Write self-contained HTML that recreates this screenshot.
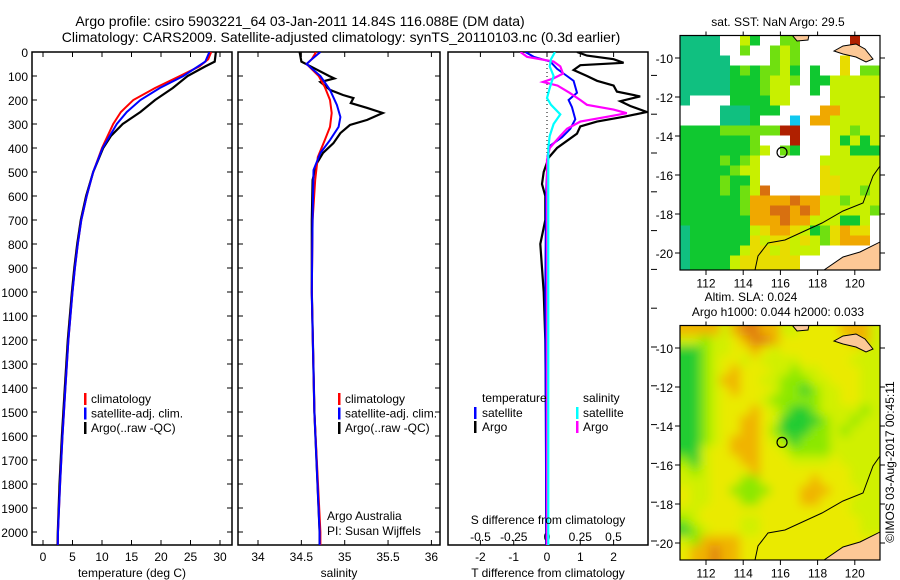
<!DOCTYPE html>
<html><head><meta charset="utf-8">
<style>
html,body{margin:0;padding:0;background:#fff;}
svg{display:block;font-family:"Liberation Sans",sans-serif;}
text{font-size:12px;fill:#000;}
</style></head>
<body>
<svg id="fig" width="900" height="580" viewBox="0 0 900 580" xmlns="http://www.w3.org/2000/svg">
<defs>
<clipPath id="c1"><rect x="32" y="52" width="200" height="493"/></clipPath>
<clipPath id="c2"><rect x="238" y="52" width="202" height="493"/></clipPath>
<clipPath id="c3"><rect x="448" y="52" width="200" height="493"/></clipPath>
<clipPath id="cm1"><rect x="680" y="35.5" width="200" height="234.5"/></clipPath>
<clipPath id="cm2"><rect x="680" y="325.5" width="200" height="234.5"/></clipPath>
<filter id="blur" x="-5%" y="-5%" width="110%" height="110%"><feGaussianBlur stdDeviation="5"/></filter>
</defs>
<text x="300" y="26" text-anchor="middle" style="font-size:14px">Argo profile: csiro 5903221_64 03-Jan-2011 14.84S 116.088E (DM data)</text>
<text x="341" y="42" text-anchor="middle" style="font-size:14px">Climatology: CARS2009. Satellite-adjusted climatology: synTS_20110103.nc (0.3d earlier)</text>
<g id="g1"></g>
<g id="g2"></g>
<g id="g3"></g>
<g id="m1"></g>
<g id="m2"></g>
<text x="0" y="0" transform="translate(894,462) rotate(-90)" text-anchor="middle">©IMOS 03-Aug-2017 00:45:11</text>
</svg>
<script>
// ---- data ----
const depthTicks=[0,100,200,300,400,500,600,700,800,900,1000,1100,1200,1300,1400,1500,1600,1700,1800,1900,2000];
const tempTicks=[0,5,10,15,20,25,30];
const salTicks=[34,34.5,35,35.5,36];
const tdTicks=[-2,-1,0,1,2];
const sdTicks=[-0.5,-0.25,0,0.25,0.5];
const sdTickLabels=["-0.5","-0.25","0","0.25","0.5"];
const climTempDepth=[0,30,60,100,150,200,250,300,400,500,600,700,800,900,1000,1200,1400,1600,1800,2000,2060];
const climTemp=[28.5,28,26.5,23.2,19,15.3,13.2,11.9,10,8.5,7.4,6.5,5.9,5.4,5,4.3,3.8,3.3,2.9,2.55,2.5];
const satTempDepth=[0,40,100,150,200,250,300,400,500,600,700,800,900,1000,1200,1400,1600,1800,2000,2060];
const satTemp=[28.2,27.5,23.8,19.8,16.5,14.2,12.5,10.1,8.5,7.4,6.5,5.9,5.4,5,4.3,3.8,3.3,2.9,2.55,2.5];
const argoTempDepth=[0,40,60,100,150,200,250,300,350,400,500,600,700,800,900,1000,1200,1400,1600,1800,2000,2060];
const argoTemp=[29.3,29.1,27.5,24.5,22,19,16.5,13.5,11.5,10.2,8.5,7.3,6.4,5.8,5.3,4.9,4.2,3.7,3.2,2.8,2.5,2.45];
const climSalDepth=[0,30,50,100,146,200,254,312,367,438,533,700,1000,1500,2000,2060];
const climSal=[34.67,34.62,34.56,34.7,34.77,34.83,34.85,34.83,34.77,34.69,34.66,34.63,34.62,34.65,34.72,34.72];
const satSalDepth=[0,30,50,100,158,221,271,312,367,421,492,700,1000,1500,2000,2060];
const satSal=[34.72,34.62,34.56,34.72,34.83,34.91,34.95,34.93,34.83,34.72,34.64,34.63,34.62,34.65,34.71,34.71];
const argoSalDepth=[0,40,55,100,110,125,158,179,192,213,233,254,283,304,338,380,421,463,533,700,1000,1500,2000,2060];
const argoSal=[34.48,34.5,34.58,34.82,34.88,34.72,34.83,34.98,35.1,35.07,35.26,35.44,35.26,35.06,34.95,34.87,34.75,34.68,34.63,34.62,34.62,34.65,34.71,34.71];
const tdArgoDepth=[0,15,30,45,55,75,100,120,140,165,185,205,225,250,270,290,310,340,370,400,440,500,550,600,700,800,900,1000,1200,1500,2000,2060];
const tdArgo=[0.9,1.2,2.0,2.3,1.0,0.8,1.2,1.5,2.0,2.1,2.8,2.2,2.5,3.0,2.3,1.5,1.0,0.9,0.6,0.3,0.05,-0.1,-0.15,-0.05,-0.05,-0.2,-0.15,-0.1,-0.05,-0.03,-0.02,-0.02];
const tdSatDepth=[0,20,40,70,100,120,170,200,230,280,320,355,390,430,600,1000,2060];
const tdSat=[-0.65,-0.4,0.1,0.3,0.6,0.8,0.9,0.65,0.75,0.85,0.7,0.45,0.1,0.02,-0.03,-0.05,-0.02];
const sdArgoDepth=[0,20,40,60,90,110,125,140,170,200,220,240,255,270,290,320,350,400,450,2060];
const sdArgo=[-0.2,-0.15,0.05,0.1,0.12,0.05,-0.03,0.08,0.17,0.25,0.3,0.5,0.6,0.45,0.25,0.15,0.1,0.02,0,0];
const sdSatDepth=[0,30,60,100,150,192,220,260,300,350,400,2060];
const sdSat=[0.06,0.03,0.02,0.05,0.02,0,0.03,0.1,0.05,0.02,0.01,0.01];
const latTicks=[-10,-12,-14,-16,-18,-20];
const lonTicks=[112,114,116,118,120];
const argoLon=116.088, argoLat=-14.84;
const sstGrid=[
"TTTTWWYGWWggWWWWWRWW","TTTTWWgWWgYgWWWWWWWW","TTTTTWWWWgYgWWWWyWWW","TTTTTGgGggYGWGWWyWgg",
"TTTTTGGGgYYgWGGYYYYY","TTTTTGGGgYYWWGWYYYYY","TWWWWGGGGYYWWWWYYYYY","WWWWTTTGGGWWWWOOYYYY",
"WWWWTTTGWWWCWOOYYYYY","GGGGggggggRRWWWYYgYY","GGGGGGGgWWWRWWWYGYGY","GGGGGGGgYWgGWWWYYGGG",
"GGGGgGgYWWWWWWYYYYYY","GGGGGgYYWWWWWWyYYYYY","GGGGgGGYWWWWWWyyYYYY","GGGGgGgYoWWWWWyyYYgY",
"GGGGGGgOOOOoOOYYgYYY","GGGGGGgOOooOoOYYYYYg","GGGGGGGOOOoOOYYYGGYW","TGGGGGGYyOOyYGgyOyyW",
"TGGGGGGyYyyYyYgyOOOW","TGGGGGYyyYyYYYWWWWWW","TGGGGYyyyyyyWWWWWWWW","TGGGGYyyyyyyWWWWWWWW"];
const slaGrid=[
"OOOOYOooOOYYyyyyOOOY","YYlYYyOooOyyyyyyyOOY","GGlYYyyOyYyyyyyyyyYY","GGlYyyYyYYYYyyyyyYYY",
"GGlYyOyyyYYlYYyyyyYY","GGlYOOyyYYlllYYyyyYY","GGlYyOyyyYllGlYYyyYY","GGlYyyyyYlllllYYyyYY",
"GGlYyyyOyYlGGlYYYYlY","GGlYyyOOyYGGGGlYYlYY","GGlYyyOOylGGGllYlYYY","GGlYyOOOyYlGlllYYYYY",
"GGYyyOOOyyYllllYYYYY","lGYyyyOOyyyYYYYyYYYY","YlYyyyyOyyyyyyyyyYYY","YYYyyyllyyyyyOyyyYYY",
"yYYyyllllyyyOOOyyyYY","yYYyyyllyyyyOOyyyYYY","YYyyyyyyyyyyyyyyyYYY","lYyyyyYYyyyyyyyyyyYY",
"GlYyyyYYyyyyyyyyyyYY","YlOOOOyyyyyyyyyyyyyy","yOOoOOyyyyyyyyyyyyyy","yOOoOOyyyyyyyyyyyyyy"];
// ---- helpers ----
const NS="http://www.w3.org/2000/svg";
function mk(parent,tag,attrs){const e=document.createElementNS(NS,tag);for(const k in attrs)e.setAttribute(k,attrs[k]);parent.appendChild(e);return e;}
const yD=d=>52+d*0.24;
const xT=t=>43+t*5.9;
const xS=s=>258+(s-34)*86.7;
const xTD=t=>547+t*33.3;
const xSD=s=>547+s*133;
function frame(g,x0,x1,name){const r=mk(g,'rect',{x:x0,y:52,width:x1-x0,height:493,fill:'none',stroke:'#000','stroke-width':1.5});

}
function line(g,xs,ds,xf,color,w,clip,name){
  const pts=xs.map((v,i)=>xf(v).toFixed(1)+','+yD(ds[i]).toFixed(1)).join(' ');
  const p=mk(g,'polyline',{points:pts,fill:'none',stroke:color,'stroke-width':w,'clip-path':'url(#'+clip+')'});
  
  
}
function vticks(g,x0,x1){depthTicks.forEach(d=>{const y=yD(d);mk(g,'line',{x1:x0,y1:y,x2:x0+5,y2:y,stroke:'#000'});mk(g,'line',{x1:x1,y1:y,x2:x1-5,y2:y,stroke:'#000'});});}
function htick(g,x){mk(g,'line',{x1:x,y1:52,x2:x,y2:57,stroke:'#000'});mk(g,'line',{x1:x,y1:545,x2:x,y2:540,stroke:'#000'});}
function txt(g,x,y,s,anchor,name){const t=mk(g,'text',{x:x,y:y,'text-anchor':anchor||'start'});t.textContent=s;

return t;}
function legbar(g,x,y,color,name){const r=mk(g,'rect',{x:x,y:y-10,width:2.5,height:12,fill:color});

}
// ---- panel 1 ----
const g1=document.getElementById('g1');
frame(g1,32,232,'temperature-axes-frame');
vticks(g1,32,232);
depthTicks.forEach(d=>txt(g1,28,yD(d)+5,String(d),'end','depth-tick-label'));
tempTicks.forEach(t=>{htick(g1,xT(t));txt(g1,xT(t),561,String(t),'middle','temp-tick-label');});
txt(g1,132,577,'temperature (deg C)','middle','temperature-axis-title');
line(g1,argoTemp,argoTempDepth,xT,'#000',2.2,'c1','argo-temperature-line');
line(g1,climTemp,climTempDepth,xT,'#f00',2,'c1','climatology-temperature-line');
line(g1,satTemp,satTempDepth,xT,'#00f',2,'c1','satellite-temperature-line');
[['climatology','#f00'],['satellite-adj. clim.','#00f'],['Argo(..raw -QC)','#000']].forEach((l,i)=>{legbar(g1,84,403+i*14.5,l[1],'legend-bar');txt(g1,91,403+i*14.5,l[0],'start','legend-entry');});
// ---- panel 2 ----
const g2=document.getElementById('g2');
frame(g2,238,440,'salinity-axes-frame');
vticks(g2,238,440);
salTicks.forEach(s=>{htick(g2,xS(s));txt(g2,xS(s),561,String(s),'middle','salinity-tick-label');});
txt(g2,339,577,'salinity','middle','salinity-axis-title');
line(g2,argoSal,argoSalDepth,xS,'#000',2.2,'c2','argo-salinity-line');
line(g2,climSal,climSalDepth,xS,'#f00',2,'c2','climatology-salinity-line');
line(g2,satSal,satSalDepth,xS,'#00f',2,'c2','satellite-salinity-line');
[['climatology','#f00'],['satellite-adj. clim.','#00f'],['Argo(..raw -QC)','#000']].forEach((l,i)=>{legbar(g2,338,403+i*14.5,l[1],'legend-bar');txt(g2,345,403+i*14.5,l[0],'start','legend-entry');});
txt(g2,327,520,'Argo Australia','start','institution-label');
txt(g2,327,535,'PI: Susan Wijffels','start','pi-label');
// ---- panel 3 ----
const g3=document.getElementById('g3');
frame(g3,448,648,'difference-axes-frame');
for(let y=541;y>50;y-=38.8){mk(g3,'line',{x1:651,y1:y,x2:657,y2:y,stroke:'#000'});}
mk(g3,'line',{x1:547,y1:52,x2:547,y2:yD(500),stroke:'#000','stroke-dasharray':'1,3'});
tdTicks.forEach(t=>{mk(g3,'line',{x1:xTD(t),y1:545,x2:xTD(t),y2:540,stroke:'#000'});mk(g3,'line',{x1:xTD(t),y1:52,x2:xTD(t),y2:57,stroke:'#000'});txt(g3,xTD(t),561,String(t),'middle','tdiff-tick-label');});
sdTicks.forEach((s,i)=>txt(g3,xSD(s),541,sdTickLabels[i],'middle','sdiff-tick-label'));
txt(g3,548,577,'T difference from climatology','middle','tdiff-axis-title');
line(g3,tdArgo,tdArgoDepth,xTD,'#000',2.2,'c3','argo-tdiff-line');
line(g3,tdSat,tdSatDepth,xTD,'#00f',2,'c3','satellite-tdiff-line');
line(g3,sdArgo,sdArgoDepth,xSD,'#f0f',2.2,'c3','argo-sdiff-line');
line(g3,sdSat,sdSatDepth,xSD,'#0ff',2.2,'c3','satellite-sdiff-line');
txt(g3,548,524,'S difference from climatology','middle','sdiff-axis-title');
txt(g3,482,402,'temperature','start','legend-heading');
txt(g3,583,402,'salinity','start','legend-heading');
legbar(g3,474,417,'#00f','legend-bar');txt(g3,482,417,'satellite','start','legend-entry');
legbar(g3,474,431,'#000','legend-bar');txt(g3,482,431,'Argo','start','legend-entry');
legbar(g3,576,417,'#0ff','legend-bar');txt(g3,583,417,'satellite','start','legend-entry');
legbar(g3,576,431,'#f0f','legend-bar');txt(g3,583,431,'Argo','start','legend-entry');
// ---- maps ----
const mxL=lon=>706+(lon-112)*18.6;
const myL=(lat,top)=>top+22.5+(-10-lat)*19.5;
const sstCol={T:'#10c080',G:'#10c830',g:'#70e010',Y:'#c8f000',y:'#e8dc00',O:'#f0a800',o:'#d87010',W:'#ffffff',R:'#b02000',C:'#10c8f0'};
const slaCol={G:'#20cc30',l:'#8ce800',Y:'#d0f000',y:'#eaea00',O:'#f0b400',o:'#e08010'};
function map(id,top,grid,cols,blur,clip,titles){
  const g=document.getElementById(id);
  const cg=mk(g,'g',{'clip-path':'url(#'+clip+')'});
  const inner=mk(cg,'g',blur?{filter:'url(#blur)'}:{});
  grid.forEach((row,r)=>{for(let c=0;c<row.length;c++){
    let x=680+c*10,y=top+r*10,w=10.5,h=10.5;
    if(blur){if(c==0){x-=12;w+=12;} if(c==row.length-1){w+=12;} if(r==0){y-=12;h+=12;} if(r==grid.length-1){h+=12;}}
    mk(inner,'rect',{x:x,y:y,width:w,height:h,fill:cols[row[c]]});}});
  const o=[0,top-35.5];
  const sh=(pts)=>pts.map(p=>p[0]+','+(p[1]+o[1])).join(' ');
  mk(cg,'polygon',{points:sh([[824,270],[843,257],[860,252],[880,242],[880,270]]),fill:'#fcc896',stroke:'#000'});
  mk(cg,'polygon',{points:sh([[834,51],[843,46],[856,44],[865,49],[873,59],[866,62],[856,57],[843,54]]),fill:'#fcc896',stroke:'#000'});
  mk(cg,'polygon',{points:sh([[792,35],[809,35],[808,40],[797,41]]),fill:'#fcc896',stroke:'#000'});
  mk(cg,'polyline',{points:sh([[755,270],[758,256],[768,243],[785,240],[822,223],[843,211],[863,203],[873,176],[880,166]]),fill:'none',stroke:'#000','stroke-width':1});
  const c=mk(g,'circle',{cx:mxL(argoLon),cy:myL(argoLat,top),r:5,fill:'none',stroke:'#000','stroke-width':1.2});
  
  
  const fr=mk(g,'rect',{x:680,y:top,width:200,height:234.5,fill:'none',stroke:'#000','stroke-width':1.2});
  
  
  latTicks.forEach(l=>{const y=myL(l,top);mk(g,'line',{x1:675,y1:y,x2:680,y2:y,stroke:'#000'});mk(g,'line',{x1:880,y1:y,x2:885,y2:y,stroke:'#000'});txt(g,673,y+5,String(l),'end','latitude-tick-label');});
  lonTicks.forEach(l=>{const x=mxL(l);mk(g,'line',{x1:x,y1:top+234.5,x2:x,y2:top+239.5,stroke:'#000'});mk(g,'line',{x1:x,y1:top,x2:x,y2:top-4,stroke:'#000'});txt(g,x,top+252,String(l),'middle','longitude-tick-label');});
  titles.forEach(t=>txt(g,t[0],t[1],t[2],'middle','map-title'));
}
map('m1',35.5,sstGrid,sstCol,false,'cm1',[[778,26,'sat. SST: NaN Argo: 29.5']]);
map('m2',325.5,slaGrid,slaCol,true,'cm2',[[751,301,'Altim. SLA: 0.024'],[778,316,'Argo h1000: 0.044 h2000: 0.033']]);
</script>
</body></html>
